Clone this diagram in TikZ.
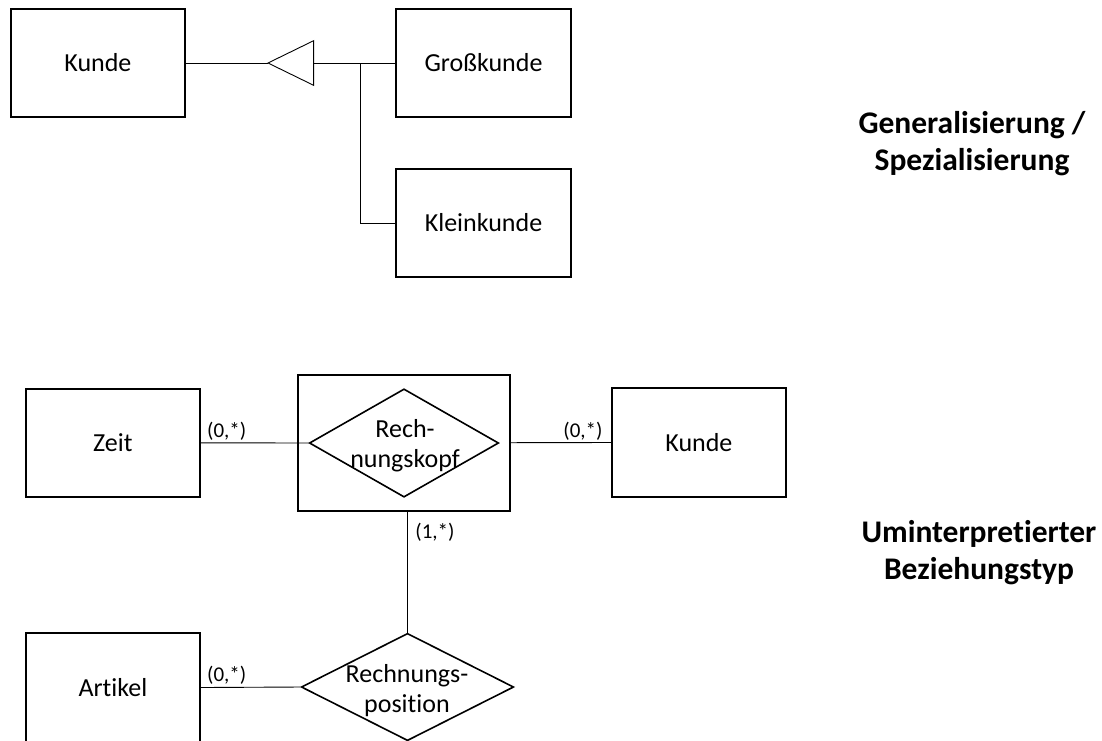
\documentclass[tikz,border=0pt]{standalone}
\usepackage{fontspec}
\setmainfont{Carlito}[Ligatures={NoCommon,NoContextual}, RawFeature={-liga;-clig;-calt}]
\usetikzlibrary{shapes.geometric}

\begin{document}
\begin{tikzpicture}[x=1pt,y=-1pt,
  entity/.style={draw, line width=1.9pt, rectangle, minimum width=174.3pt,
    minimum height=108.3pt, inner sep=0pt, font=\fontsize{26}{31}\selectfont},
  relation/.style={draw, line width=1.6pt, diamond, inner sep=0pt},
  conn/.style={line width=0.9pt},
  card/.style={font=\fontsize{21}{25}\selectfont, inner sep=0pt},
  rellabel/.style={font=\fontsize{26}{30}\selectfont, align=center, inner sep=0pt},
  heading/.style={font=\fontsize{31.5}{36.5}\selectfont\bfseries, align=center, inner sep=0pt}]

\useasboundingbox (0,0) rectangle (1102,740);

% ---------- generalisation / specialisation ----------
\node[entity] (kundeA) at (97.9,63) {Kunde};
\node[entity] (gross)  at (483.5,63) {Großkunde};
\node[entity] (klein)  at (483.5,223) {Kleinkunde};

\coordinate (tip)     at (268,63);
\coordinate (tipback) at (313.6,63);
\coordinate (fork)    at (360.7,63);

\draw[conn] (tip) -- (313.6,40.7) -- (313.6,85.3) -- cycle;
\draw[conn] (kundeA.east) -- (tip);
\draw[conn] (tipback) -- (gross.west);
\draw[conn] (fork) |- (klein.west);

\node[heading] (genhead) at (972,143.5) {Generalisierung /\\Spezialisierung};

% ---------- reinterpreted relationship type ----------
\node[entity] (zeit)   at (112.9,442.8) {Zeit};
\node[entity] (kundeB) at (698.9,442.5) {Kunde};
\node[entity] (artikel) at (112.9,687.5) {Artikel};

\node[draw, line width=1.9pt, rectangle, minimum width=211.8pt,
      minimum height=136pt, inner sep=0pt] (rkbox) at (404.1,442.7) {};
\node[relation, minimum width=189.3pt, minimum height=108.3pt] (rkd) at (404,443) {};
\node[rellabel] (rktext) at (405,445.2) {Rech-\\nungskopf};

\node[relation, minimum width=212.5pt, minimum height=107.4pt] (rpd) at (407.5,687) {};
\node[rellabel] (rptext) at (407,690.2) {Rechnungs-\\position};

\draw[conn] (zeit.east) -- (rkd.west);
\draw[conn] (rkbox.east) -- (kundeB.west);
\draw[conn] (rpd.north) -- (rpd.north |- rkbox.south);
\draw[conn] (artikel.east) -- (rpd.west);

\node[card] (c1) at (226.7,431) {(0,*)};
\node[card] (c2) at (583,431) {(0,*)};
\node[card] (c3) at (435,532.5) {(1,*)};
\node[card] (c4) at (226.7,675.5) {(0,*)};

\node[heading] (bezhead) at (979,552.6) {Uminterpretierter\\Beziehungstyp};

\end{tikzpicture}
\end{document}
